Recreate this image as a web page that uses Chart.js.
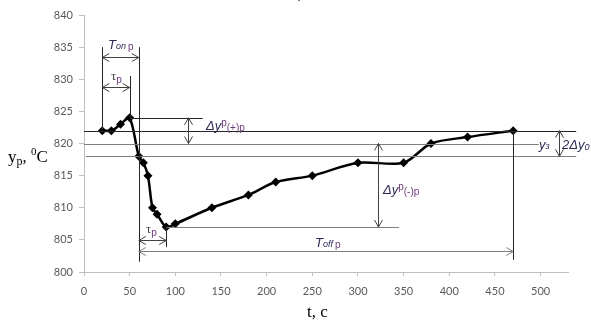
<!DOCTYPE html>
<html>
<head>
<meta charset="utf-8">
<script src="https://cdn.jsdelivr.net/npm/chart.js@4.4.1/dist/chart.umd.min.js"></script>
<style>
  html, body { margin: 0; padding: 0; background: #fff; }
  #wrap { width: 591px; height: 320px; }
</style>
</head>
<body>
<div id="wrap"><canvas id="plot" width="591" height="320"></canvas></div>
<script>
// measured points of the transient (time, s / temperature, C)
const times = [20, 30, 40, 50, 60, 65, 70, 75, 80, 90, 100, 140, 180, 210, 250, 300, 350, 380, 420, 470];
const temps = [822, 822, 823, 824, 818, 817, 815, 810, 809, 807, 807.5, 810, 812, 814, 815, 817, 817, 820, 821, 822];

const xTicks = [0, 50, 100, 150, 200, 250, 300, 350, 400, 450, 500];
const yTicks = [800, 805, 810, 815, 820, 825, 830, 835, 840];

// reference levels, C
const setPoint = 820;
const bandHigh = 822;
const bandLow = 818;
const peakLevel = 824;
const troughLevel = 807;

// horizontal guide lines: [level, from t, to t]
const hLines = [[bandHigh, 0, 539], [setPoint, 0, 498], [bandLow, 2, 539], [peakLevel, 50, 130], [troughLevel, 90, 345]];
// vertical guide lines: [t, from y, to y]
const vLines = [[20, 822, 835], [60, 835, 801.6], [50, 824, 830.5], [90, 807, 803.9], [470, 822, 801.9]];
// horizontal dimension arrows: [level, t1, t2]
const hArrows = [[833.5, 20, 60], [828.8, 20, 50], [805, 60, 90], [803.2, 60, 470]];
// vertical dimension arrows: [t, y1, y2]
const vArrows = [[114.4, 824, 820], [321.6, 820, 807], [520, 822, 818]];

const points = times.map((t, i) => ({ x: t, y: temps[i] }));

function arrowHead(ctx, x, y, dx, dy) {
    const len = 7, w = 4;
    ctx.beginPath();
    ctx.moveTo(x + dx * len - dy * w, y + dy * len + dx * w);
    ctx.lineTo(x, y);
    ctx.lineTo(x + dx * len + dy * w, y + dy * len - dx * w);
    ctx.stroke();
}

// draw a label made of runs (main text, sub/superscripts)
function runs(ctx, x, y, parts) {
    let cx = x;
    parts.forEach(p => {
        ctx.font = p.font;
        ctx.fillStyle = p.color || '#2b2b55';
        ctx.fillText(p.t, cx, y + (p.dy || 0));
        cx += ctx.measureText(p.t).width + (p.gap || 0);
    });
}

const guides = {
    id: 'guides',
    afterDatasetsDraw(chart) {
        const ctx = chart.ctx;
        const xs = chart.scales.x, ys = chart.scales.y;
        const px = v => xs.getPixelForValue(v);
        const py = v => ys.getPixelForValue(v);
        ctx.save();
        ctx.lineWidth = 1;

        hLines.forEach(([lv, a, b]) => {
            ctx.strokeStyle = (lv === bandHigh || lv === peakLevel) ? '#262626' : '#7f7f7f';
            ctx.beginPath();
            ctx.moveTo(px(a), Math.round(py(lv)) + 0.5);
            ctx.lineTo(px(b), Math.round(py(lv)) + 0.5);
            ctx.stroke();
        });
        ctx.strokeStyle = '#262626';
        vLines.forEach(([t, a, b]) => {
            ctx.beginPath();
            ctx.moveTo(Math.round(px(t)) + 0.5, py(a));
            ctx.lineTo(Math.round(px(t)) + 0.5, py(b));
            ctx.stroke();
        });
        hArrows.forEach(([lv, a, b], i) => {
            const y = Math.round(py(lv)) + 0.5;
            ctx.strokeStyle = i === 3 ? '#7f7f7f' : '#404040';
            ctx.beginPath();
            ctx.moveTo(px(a), y);
            ctx.lineTo(px(b), y);
            ctx.stroke();
            arrowHead(ctx, px(a), y, 1, 0);
            arrowHead(ctx, px(b), y, -1, 0);
        });
        ctx.strokeStyle = '#404040';
        vArrows.forEach(([t, a, b]) => {
            const x = Math.round(px(t)) + 0.5;
            ctx.beginPath();
            ctx.moveTo(x, py(a));
            ctx.lineTo(x, py(b));
            ctx.stroke();
            arrowHead(ctx, x, py(a), 0, 1);
            arrowHead(ctx, x, py(b), 0, -1);
        });

        ctx.textBaseline = 'alphabetic';
        ctx.textAlign = 'left';
        const it = 'italic 13px "Liberation Sans"';
        const sm = '10px "Liberation Sans"';
        const smi = 'italic 9px "Liberation Sans"';
        const pink = '#6b3a78';
        runs(ctx, 108, 49, [{ t: 'T', font: it }, { t: 'on', font: smi, gap: 2 }, { t: 'p', font: sm, dy: 1, color: pink }]);
        runs(ctx, 111, 80, [{ t: 'τ', font: '13px "Liberation Serif"', color: '#404040' }, { t: 'p', font: sm, dy: 3, color: pink }]);
        runs(ctx, 146, 233, [{ t: 'τ', font: '13px "Liberation Serif"', color: '#404040' }, { t: 'p', font: sm, dy: 3, color: pink }]);
        runs(ctx, 206, 130, [{ t: 'Δy', font: it }, { t: 'p', font: sm, dy: -4, color: pink }, { t: '(+)p', font: sm, dy: 1, color: pink }]);
        runs(ctx, 383, 194, [{ t: 'Δy', font: it }, { t: 'p', font: sm, dy: -4, color: pink }, { t: '(-)p', font: sm, dy: 1, color: pink }]);
        runs(ctx, 315, 247, [{ t: 'T', font: it }, { t: 'off', font: smi, gap: 2 }, { t: 'p', font: sm, dy: 1, color: pink }]);
        runs(ctx, 539, 149, [{ t: 'y', font: it }, { t: 'з', font: smi }]);
        runs(ctx, 562, 149, [{ t: '2Δy', font: it }, { t: '0', font: smi, dy: 1 }]);

        // axis titles
        runs(ctx, 8, 162, [{ t: 'y', font: '17px "Liberation Serif"', color: '#000' },
            { t: 'p', font: '12px "Liberation Serif"', dy: 3, color: '#000' },
            { t: ', ', font: '17px "Liberation Serif"', color: '#000' },
            { t: '0', font: '11px "Liberation Serif"', dy: -7, color: '#000' },
            { t: 'C', font: '17px "Liberation Serif"', color: '#000' }]);
        runs(ctx, 307, 317, [{ t: 't, c', font: '17px "Liberation Serif"', color: '#000' }]);
        runs(ctx, 291, -2, [{ t: 'а)', font: '15px "Liberation Serif"', color: '#000' }]);
        ctx.restore();
    }
};

const tickFont = { family: 'Lato, "Open Sans", sans-serif', size: 11 };

new Chart(document.getElementById('plot'), {
    type: 'line',
    data: {
        datasets: [{
            data: points,
            borderColor: '#000',
            backgroundColor: '#000',
            borderWidth: 2.5,
            tension: 0.3,
            pointStyle: 'rectRot',
            pointRadius: 4.5,
            pointBorderWidth: 0,
            pointBackgroundColor: '#000'
        }]
    },
    options: {
        responsive: false,
        animation: false,
        layout: { padding: { left: 0, right: 23, top: 15, bottom: 0 } },
        plugins: { legend: { display: false }, tooltip: { enabled: false } },
        scales: {
            x: {
                type: 'linear',
                min: 0,
                max: 530,
                afterBuildTicks: s => { s.ticks = xTicks.map(v => ({ value: v })); },
                afterFit: s => { s.height = 48; },
                border: { color: '#bfbfbf', width: 1 },
                grid: { drawOnChartArea: false, drawTicks: true, tickLength: 4, color: '#bfbfbf' },
                ticks: { color: '#595959', font: tickFont, padding: 9, maxRotation: 0 }
            },
            y: {
                min: 800,
                max: 840,
                afterBuildTicks: s => { s.ticks = yTicks.map(v => ({ value: v })); },
                afterFit: s => { s.width = 84; },
                border: { color: '#bfbfbf', width: 1 },
                grid: { drawOnChartArea: false, drawTicks: true, tickLength: 5, color: '#bfbfbf' },
                ticks: { color: '#595959', font: tickFont, padding: 6 }
            }
        }
    },
    plugins: [guides]
});
</script>
</body>
</html>
